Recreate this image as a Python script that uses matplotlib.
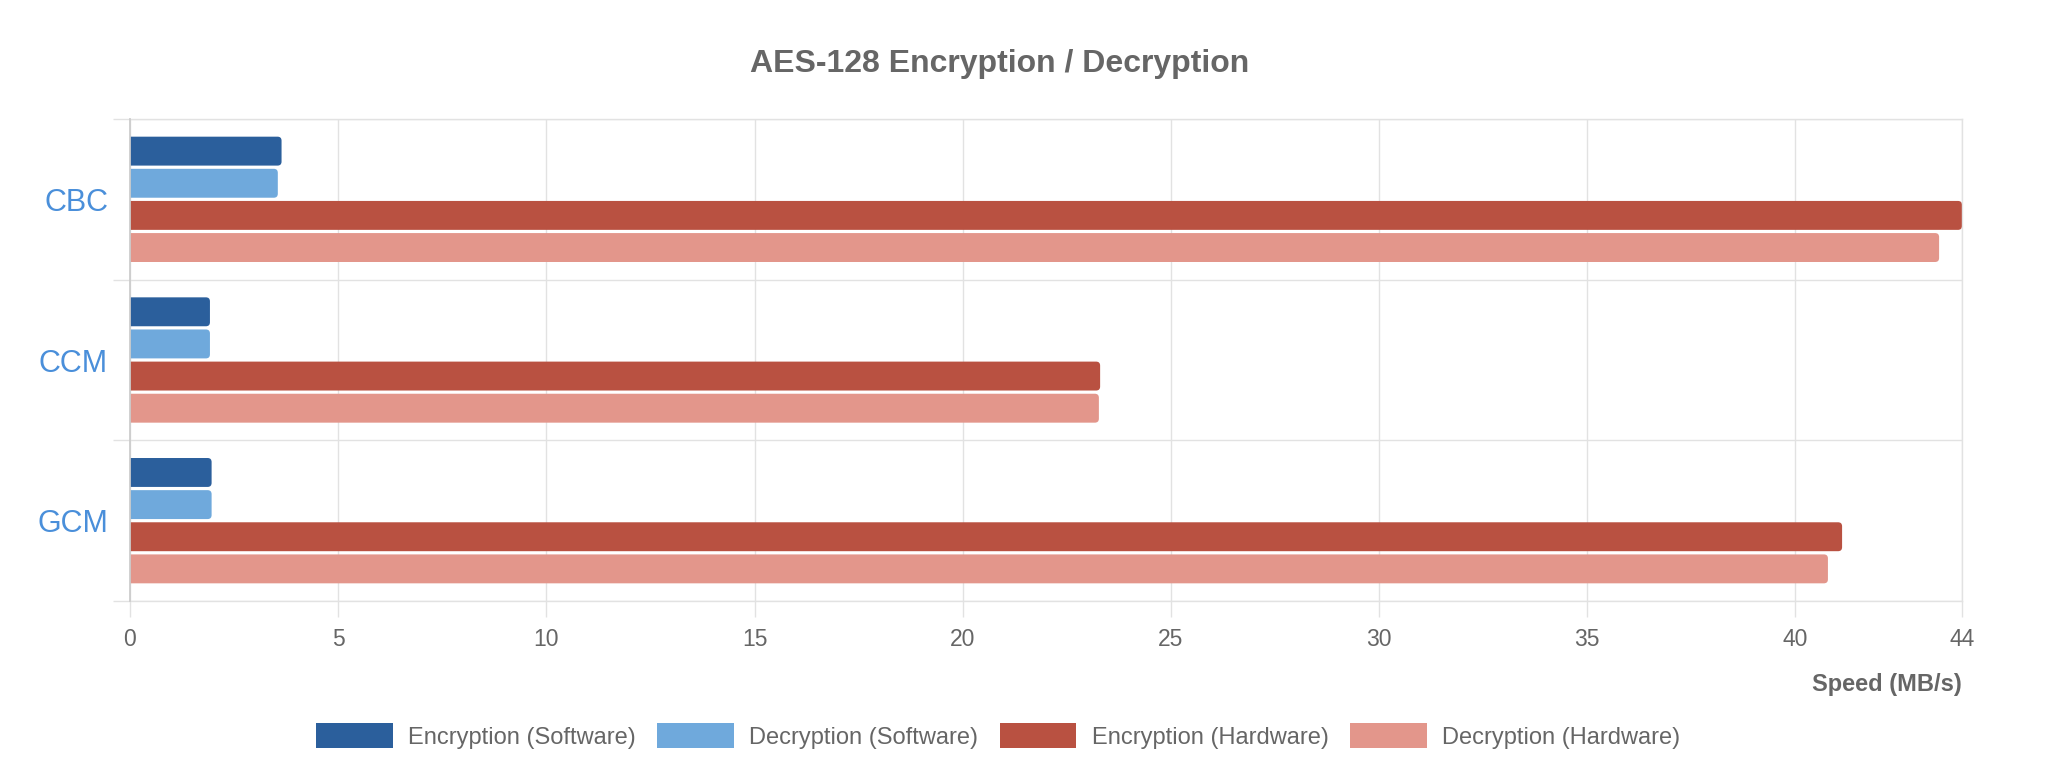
import matplotlib
matplotlib.use("Agg")
import matplotlib.pyplot as plt
from matplotlib.patches import FancyBboxPatch, Patch
import numpy as np

plt.rcParams['font.family'] = ['Liberation Sans', 'DejaVu Sans']

categories = ["CBC", "CCM", "GCM"]
series_names = ["Encryption (Software)", "Decryption (Software)",
                "Encryption (Hardware)", "Decryption (Hardware)"]
enc_sw = [3.64, 1.92, 1.96]
dec_sw = [3.55, 1.92, 1.96]
enc_hw = [44.0, 23.30, 41.12]
dec_hw = [43.45, 23.27, 40.78]
colors = ["#2b5f9c", "#6fa9dc", "#b95141", "#e3968b"]
xticks = [0, 5, 10, 15, 20, 25, 30, 35, 40, 44]

W, H = 2052, 784
PT = 0.72  # points per pixel at dpi 100
fig = plt.figure(figsize=(W / 100, H / 100), dpi=100)
left, right, top, bottom = 130, 1962, 119, 601
ax = fig.add_axes([left / W, 1 - bottom / H, (right - left) / W, (bottom - top) / H])

gray = "#666666"
grid = "#e2e2e2"
ypos = np.arange(len(categories))
pitch = 0.2
bh = 0.18
offsets = [-1.5 * pitch, -0.5 * pitch, 0.5 * pitch, 1.5 * pitch]

ax.set_xlim(0, 44)
ax.set_ylim(len(categories) - 0.5, -0.5)

# pixel scale for rounded corners
px_x = 44 / (right - left)
px_y = len(categories) / (bottom - top)
r_px = 4
for vals, off, col in zip([enc_sw, dec_sw, enc_hw, dec_hw], offsets, colors):
    bars = ax.barh(ypos + off, vals, height=bh, color=col, zorder=2)
    for rect in bars:
        x, y = rect.get_x(), rect.get_y()
        w, h = rect.get_width(), rect.get_height()
        rect.set_visible(False)
        shift = 10 * px_x
        p = FancyBboxPatch((x - shift, y), w + shift, h,
                           boxstyle=f"round,pad=0,rounding_size={r_px * px_x}",
                           mutation_aspect=px_y / px_x,
                           facecolor=col, edgecolor="none", zorder=2)
        ax.add_patch(p)

lw = 1.4 * PT
ax.set_xticks(xticks)
ax.set_xticklabels([str(t) for t in xticks])
ax.set_yticks(ypos)
ax.set_yticklabels(categories)
ax.set_yticks(np.arange(len(categories) + 1) - 0.5, minor=True)
ax.tick_params(axis='y', which='major', length=0, pad=22 * PT, labelsize=22, labelcolor="#4a8fda")
ax.tick_params(axis='y', which='minor', length=17 * PT, width=lw, color=grid)
ax.tick_params(axis='x', which='major', length=16 * PT, width=lw, color=grid,
               labelsize=16.5, labelcolor=gray, pad=11 * PT)
ax.grid(True, axis='x', which='major', color=grid, linewidth=lw, zorder=0)
ax.grid(True, axis='y', which='minor', color=grid, linewidth=lw, zorder=0)
ax.set_axisbelow(True)
for s in ["top", "right", "bottom"]:
    ax.spines[s].set_color(grid)
    ax.spines[s].set_linewidth(lw)
ax.spines["left"].set_color("#cccccc")
ax.spines["left"].set_linewidth(1.8 * PT)
ax.spines["left"].set_zorder(3)

fig.text(1000 / W, 1 - 64 / H, "AES-128 Encryption / Decryption", ha="center", va="center",
         fontsize=23, fontweight="bold", color=gray)
fig.text(1962 / W, 1 - 684 / H, "Speed (MB/s)", ha="right", va="center",
         fontsize=17, fontweight="bold", color=gray)

handles = [Patch(facecolor=c, edgecolor="none") for c in colors]
fig.legend(handles, series_names, loc="center", bbox_to_anchor=(998 / W, 1 - 736 / H),
           ncol=4, frameon=False, fontsize=17, labelcolor=gray,
           handlelength=3.26, handleheight=1.25, handletextpad=0.64, columnspacing=0.9)

fig.savefig("out.png", dpi=100)
